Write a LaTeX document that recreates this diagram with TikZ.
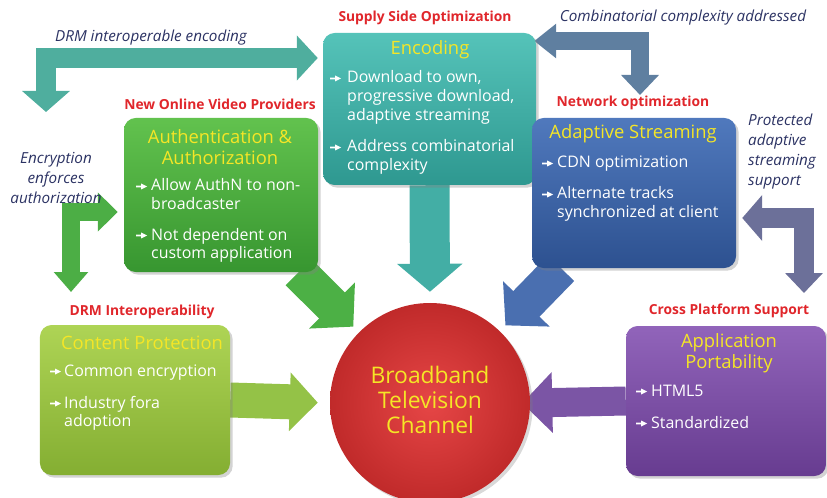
\documentclass[tikz,border=0pt]{standalone}
\usepackage{fontspec}
\setmainfont{Open Sans}
\usetikzlibrary{arrows.meta,shadows,backgrounds}
\definecolor{ttl}{HTML}{F5E626}
\definecolor{lblred}{HTML}{E0262B}
\definecolor{navy}{HTML}{2B3263}
\definecolor{tealA}{HTML}{55C3B9}\definecolor{tealB}{HTML}{2E9890}
\definecolor{grnA}{HTML}{62C24E}\definecolor{grnB}{HTML}{379630}
\definecolor{bluA}{HTML}{5079BD}\definecolor{bluB}{HTML}{2D5190}
\definecolor{ygA}{HTML}{AED455}\definecolor{ygB}{HTML}{84AE32}
\definecolor{purA}{HTML}{9164BA}\definecolor{purB}{HTML}{673C90}
\definecolor{redA}{HTML}{E64646}\definecolor{redB}{HTML}{C02A2A}
\definecolor{arTealL}{HTML}{4FAE9E}
\definecolor{arBlueL}{HTML}{5F7FA0}
\definecolor{arGrnL}{HTML}{4CAE45}
\definecolor{arPurL}{HTML}{6C7099}
\definecolor{arTeal}{HTML}{43AEA5}
\definecolor{arGrn}{HTML}{4CB045}
\definecolor{arBlu}{HTML}{4A6FB0}
\definecolor{arYg}{HTML}{94C247}
\definecolor{arPur}{HTML}{7B55A5}
\newcommand{\txl}[1]{\begin{tabular}[t]{@{}l@{}}#1\end{tabular}}
% bullet marker: #1 = left x, #2 = baseline y
\newcommand{\mk}[2]{\fill[white] (#1,#2-5.3) -- ++(5,0) -- ++(0,-2.2) -- ++(6,3.0) -- ++(-6,3.0) -- ++(0,-2.2) -- ++(-5,0) -- cycle;}
\begin{document}
\begin{tikzpicture}[x=0.3mm,y=-0.3mm,
  box/.style={rectangle,rounded corners=10pt,draw=none,
    drop shadow={opacity=0.35,shadow xshift=0.8mm,shadow yshift=-0.8mm}},
  ttlt/.style={text=ttl,font=\fontsize{15.7}{18}\selectfont,align=center,inner sep=0pt},
  body/.style={text=white,font=\fontsize{13.6}{15.9}\selectfont,anchor=base west,inner sep=0pt},
  redl/.style={text=lblred,font=\fontsize{11.8}{13}\bfseries\selectfont,inner sep=0pt},
  ital/.style={text=navy,font=\fontsize{13}{17}\itshape\selectfont,inner sep=0pt},
]
\useasboundingbox (0,0) rectangle (827,498);

% boxes
\node[box,top color=tealA,bottom color=tealB,minimum width=63.9mm,minimum height=45.6mm] (enc) at (429.5,109) {};
\node[box,top color=grnA,bottom color=grnB,minimum width=58.2mm,minimum height=46.2mm] (auth) at (221,195) {};
\node[box,top color=bluA,bottom color=bluB,minimum width=61.2mm,minimum height=45mm] (adap) at (634,193) {};
\node[box,top color=ygA,bottom color=ygB,minimum width=57mm,minimum height=45mm] (cp) at (135,400) {};
\node[box,top color=purA,bottom color=purB,minimum width=60mm,minimum height=45mm] (app) at (726,401) {};
\node[circle,inner color=redA,outer color=redB,minimum size=60mm,draw=none,
  drop shadow={opacity=0.3,shadow xshift=0.8mm,shadow yshift=-0.8mm}] (circ) at (430,403) {};

% circle text
\node[text=ttl,font=\fontsize{19.5}{21.5}\selectfont,align=center,inner sep=0pt] (circt) at (430,400) {Broadband\\Television\\Channel};

% encoding text
\node[ttlt] (enct) at (430,50) {Encoding};
\mk{330}{83}
\node[body] (encb1) at (347,83) {\txl{Download to own,\\progressive download,\\adaptive streaming}};
\mk{330}{152}
\node[body] (encb2) at (347,152) {\txl{Address combinatorial\\complexity}};

% auth text
\node[ttlt] (autht) at (220,147) {Authentication \&\\Authorization};
\mk{136}{191}
\node[body] (authb1) at (151,191) {\txl{Allow AuthN to non-\\broadcaster}};
\mk{136}{240}
\node[body] (authb2) at (151,240) {\txl{Not dependent on\\custom application}};

% adaptive text
\node[ttlt] (adapt) at (633,134) {Adaptive Streaming};
\mk{542}{168}
\node[body] (adapb1) at (557,168) {CDN optimization};
\mk{542}{199}
\node[body] (adapb2) at (557,199) {\txl{Alternate tracks\\synchronized at client}};

% content protection text
\node[ttlt] (cpt) at (142,343) {Content Protection};
\mk{50}{376}
\node[body] (cpb1) at (64,376) {Common encryption};
\mk{50}{408}
\node[body] (cpb2) at (64,408) {\txl{Industry fora\\adoption}};

% application text
\node[ttlt] (appt) at (729,353) {Application\\Portability};
\mk{636}{396}
\node[body] (appb1) at (651,396) {HTML5};
\mk{636}{428}
\node[body] (appb2) at (651,428) {Standardized};

% red labels
\node[redl] (l1) at (425,18) {Supply Side Optimization};
\node[redl] (l2) at (220,104) {New Online Video Providers};
\node[redl] (l3) at (633,103) {Network optimization};
\node[redl] (l4) at (142,312) {DRM Interoperability};
\node[redl] (l5) at (729,311) {Cross Platform Support};

% italic labels
\node[ital] (i1) at (151,38) {DRM interoperable encoding};
\node[ital] (i2) at (683,18) {Combinatorial complexity addressed};
\node[ital,align=center] (i3) at (56,178) {Encryption\\enforces\\authorization};
\node[ital,align=left,anchor=north west] (i4) at (748,114) {Protected\\adaptive\\streaming\\support};

% corner coordinates
\coordinate (tlc) at (46,58);  \coordinate (tle) at (46,112);
\coordinate (blc) at (640,41); \coordinate (ble) at (640,95);
\coordinate (glc) at (71,212); \coordinate (gle) at (71,292);
\coordinate (plc) at (804,218); \coordinate (ple) at (804,293);

\begin{scope}[on background layer]
\draw[arTealL,line width=6mm,line join=miter,
  {Triangle[length=6.3mm,width=13.2mm]}-{Triangle[length=6.3mm,width=14mm]},shorten <=1.5mm]
  (enc.west |- tlc) -- (tlc) -- (tle);
\draw[arBlueL,line width=5.4mm,line join=miter,
  {Triangle[length=6.6mm,width=10mm]}-{Triangle[length=6mm,width=11mm]},shorten <=-0.6mm]
  (enc.east |- blc) -- (blc) -- (ble);
\draw[arGrnL,line width=5.4mm,line join=miter,
  {Triangle[length=6mm,width=11.4mm]}-{Triangle[length=6mm,width=10mm]},shorten <=1.8mm]
  (auth.west |- glc) -- (glc) -- (gle);
\draw[arPurL,line width=6mm,line join=miter,
  {Triangle[length=6mm,width=13.5mm]}-{Triangle[length=6mm,width=11mm]},shorten <=1.8mm]
  (adap.east |- plc) -- (plc) -- (ple);
% straight arrows to circle
\draw[arTeal,line width=12mm,
  -{Triangle[length=8.4mm,width=19.2mm]},shorten >=3.3mm] (enc.south) -- (circ.north);
\draw[arGrn,line width=11mm,
  -{Triangle[length=9mm,width=19mm]},shorten >=2.4mm] (auth) -- (circ);
\draw[arBlu,line width=11mm,
  -{Triangle[length=9mm,width=19mm]},shorten >=2.4mm] (adap) -- (circ);
\draw[arYg,line width=10.5mm,
  -{Triangle[length=8.4mm,width=17.1mm]},shorten >=3.6mm] (cp.east) -- (circ.west);
\draw[arPur,line width=8.7mm,
  -{Triangle[length=9mm,width=17.7mm]},shorten >=-2.4mm] (app.west) -- (circ.east);
\end{scope}
\end{tikzpicture}
\end{document}
